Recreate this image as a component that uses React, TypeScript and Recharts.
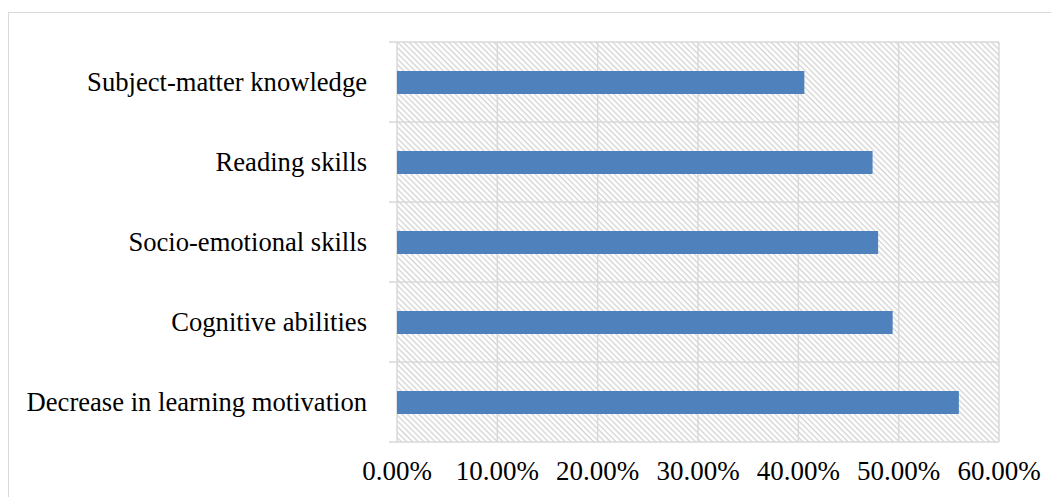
import React from "react";
import { BarChart, Bar, XAxis, YAxis, CartesianGrid } from "recharts";

const categories = [
  "Subject-matter knowledge",
  "Reading skills",
  "Socio-emotional skills",
  "Cognitive abilities",
  "Decrease in learning motivation",
];
const values = [0.406, 0.474, 0.4795, 0.494, 0.56];
const xTicks = [0, 0.1, 0.2, 0.3, 0.4, 0.5, 0.6];

const data = categories.map((name, i) => ({ name, value: values[i] }));

const FONT = "'Liberation Serif', 'Times New Roman', serif";
const GRID = "#d9d9d9";

export default function App() {
  return (
    <div style={{ position: "relative", width: 1051, height: 489, overflow: "hidden", background: "#fff" }}>
      <svg width={0} height={0} style={{ position: "absolute" }}>
        <defs>
          <pattern id="hatch" patternUnits="userSpaceOnUse" width={4} height={4} patternTransform="rotate(45)">
            <rect x={0} y={0} width={4} height={1.3} fill="#d2d2d2" />
          </pattern>
        </defs>
      </svg>
      <div
        style={{
          position: "absolute",
          left: 0,
          top: 4,
          width: 1100,
          height: 600,
          border: `1.5px solid ${GRID}`,
          boxSizing: "border-box",
        }}
      />
      <div style={{ position: "absolute", left: 0, top: 0 }}>
        <BarChart
          width={1051}
          height={489}
          data={data}
          layout="vertical"
          margin={{ top: 34, right: 60, bottom: 15, left: 0 }}
          barCategoryGap={0}
        >
          <CartesianGrid
            fill="url(#hatch)"
            stroke={GRID}
            strokeWidth={1.5}
            horizontalCoordinatesGenerator={({ offset }: any) =>
              Array.from({ length: categories.length + 1 }, (_, i) => offset.top + (i * offset.height) / categories.length)
            }
            horizontal={(p: any) => (
              <line
                key={`h-${p.index}-${p.y1}`}
                x1={p.x1 - 8}
                y1={p.y1}
                x2={p.x2}
                y2={p.y2}
                stroke={GRID}
                strokeWidth={1.5}
              />
            )}
          />
          <XAxis
            type="number"
            domain={[0, 0.6]}
            ticks={xTicks}
            interval={0}
            height={40}
            axisLine={false}
            tickLine={false}
            tickSize={0}
            tickMargin={19}
            tickFormatter={(v: number) => (v * 100).toFixed(2) + "%"}
            tick={{ fontSize: 27, fill: "#000", fontFamily: FONT }}
          />
          <YAxis
            type="category"
            dataKey="name"
            width={389}
            axisLine={false}
            tickLine={false}
            tickSize={8}
            tickMargin={22}
            interval={0}
            tick={{ fontSize: 26.6, fill: "#000", fontFamily: FONT }}
          />
          <Bar dataKey="value" fill="#4f81bd" barSize={23} isAnimationActive={false} />
        </BarChart>
      </div>
    </div>
  );
}
